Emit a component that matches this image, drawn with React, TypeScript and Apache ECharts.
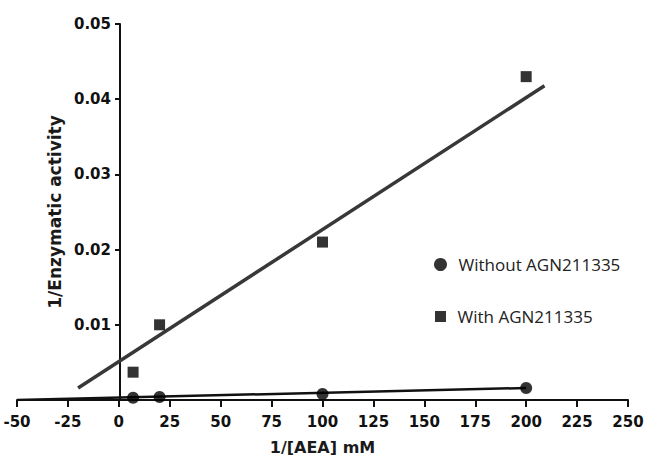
import React, { useEffect, useRef } from "react";
import * as echarts from "echarts";

const xValues = [7, 20, 100, 200];
const withoutValues = [0.0003, 0.0004, 0.0008, 0.0016];
const withValues = [0.0037, 0.01, 0.021, 0.043];
const withoutFit = [[-50, 0.0], [200, 0.0016]];
const withFit = [[-20, 0.0016], [209, 0.0418]];
const seriesNames = ["Without AGN211335", "With AGN211335"];

export default function App() {
  const ref = useRef<HTMLDivElement>(null);
  useEffect(() => {
    document.body.style.margin = "0";
    const chart = echarts.init(ref.current!, null, { renderer: "svg" });
    const tickFont = { fontFamily: "DejaVu Sans, sans-serif", fontWeight: "bold" as const, fontSize: 15, color: "#111" };
    const nameFont = { fontFamily: "DejaVu Sans, sans-serif", fontWeight: "bold" as const, fontSize: 16, color: "#1a1a1a" };
    const legendText = { fontFamily: "Open Sans, sans-serif", fontSize: 17, color: "#222" };
    chart.setOption({
      animation: false,
      backgroundColor: "#fff",
      grid: { left: 17, right: 21, top: 24, bottom: 58, outerBoundsMode: "none", containLabel: false },
      legend: [
        {
          orient: "vertical",
          left: 429,
          top: 251,
          itemWidth: 26,
          itemHeight: 13,
          textStyle: legendText,
          data: [{ name: seriesNames[0], icon: "circle" }],
        },
        {
          orient: "vertical",
          left: 430,
          top: 303,
          itemWidth: 24,
          itemHeight: 11,
          symbolKeepAspect: true,
          textStyle: legendText,
          data: [{ name: seriesNames[1], icon: "path://M0,0h10v10h-10z" }],
        },
      ],
      xAxis: {
        type: "value",
        min: -50,
        max: 250,
        interval: 25,
        splitLine: { show: false },
        axisLine: { onZero: false, lineStyle: { color: "#111", width: 2 } },
        axisTick: { show: true, length: 7, lineStyle: { color: "#111", width: 2 } },
        axisLabel: { ...tickFont, margin: 14 },
        name: "1/[AEA] mM",
        nameLocation: "middle",
        nameGap: 39,
        nameTextStyle: nameFont,
      },
      yAxis: {
        type: "value",
        min: 0,
        max: 0.05,
        interval: 0.01,
        position: "left",
        offset: -103,
        splitLine: { show: false },
        axisLine: { show: true, onZero: false, lineStyle: { color: "#111", width: 2 } },
        axisTick: { show: true, length: 5, lineStyle: { color: "#111", width: 2 } },
        axisLabel: { ...tickFont, margin: 9, formatter: (v: number) => (v === 0 ? "" : v.toFixed(2)) },
        name: "1/Enzymatic activity",
        nameLocation: "middle",
        nameGap: 56,
        nameRotate: 90,
        nameTextStyle: { ...nameFont, fontSize: 17 },
      },
      series: [
        {
          name: seriesNames[0],
          type: "scatter",
          symbol: "circle",
          symbolSize: 12,
          itemStyle: { color: "#000" },
          data: xValues.map((x, i) => [x, withoutValues[i]]),
          z: 5,
        },
        {
          name: seriesNames[1],
          type: "scatter",
          symbol: "rect",
          symbolSize: 11,
          itemStyle: { color: "#000" },
          data: xValues.map((x, i) => [x, withValues[i]]),
          z: 5,
        },
        {
          type: "line",
          data: withoutFit,
          showSymbol: false,
          symbol: "none",
          lineStyle: { color: "#111", width: 2.5 },
          z: 3,
        },
        {
          type: "line",
          data: withFit,
          showSymbol: false,
          symbol: "none",
          lineStyle: { color: "#383838", width: 3.5 },
          z: 3,
        },
      ],
    });
    return () => chart.dispose();
  }, []);
  return <div ref={ref} style={{ width: 649, height: 458 }} />;
}
